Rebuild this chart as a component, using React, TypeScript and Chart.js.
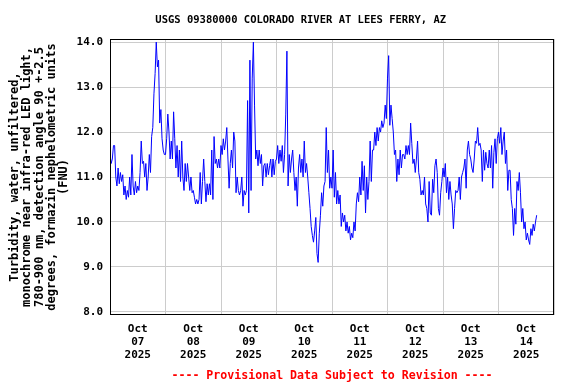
import React, { useEffect, useRef } from "react";
import { Chart, registerables } from "chart.js";

Chart.register(...registerables);

const TITLE = "USGS 09380000 COLORADO RIVER AT LEES FERRY, AZ";
const FOOTER = "---- Provisional Data Subject to Revision ----";
const Y_TITLE = [
  "Turbidity, water, unfiltered,",
  "monochrome near infra-red LED light,",
  "780-900 nm, detection angle 90 +-2.5",
  "degrees, formazin nephelometric units",
  "(FNU)",
];
const MONTH = "Oct";
const YEAR = "2025";
const DAYS = ["07", "08", "09", "10", "11", "12", "13", "14"];
const Y_TICKS = [8, 9, 10, 11, 12, 13, 14];
const STEP_HOURS = 0.5;

// half-hourly turbidity values (FNU), starting Oct 07 00:00
const oct07 = [11.5, 11.3, 11.4, 11.7, 11.7, 11.0, 10.8, 11.2, 10.85, 11.1, 10.9, 11.05, 10.6, 10.8, 10.5, 10.7, 10.55, 11.0, 10.6, 11.5, 10.8, 10.6, 10.9, 10.65, 10.8, 10.7, 11.1, 11.8, 11.3, 11.35, 11.0, 11.3, 10.7, 11.0, 11.5, 11.1, 11.9, 12.1, 12.85, 13.3, 14.0, 13.45, 13.6, 12.2, 12.5, 11.85, 11.6, 11.5];
const oct08 = [11.5, 11.85, 12.4, 12.0, 11.4, 11.8, 11.4, 12.45, 11.85, 11.2, 11.7, 11.0, 11.6, 10.9, 11.8, 11.0, 10.7, 11.3, 10.9, 11.3, 11.0, 10.7, 11.0, 10.65, 10.7, 10.55, 10.4, 10.5, 10.4, 10.5, 11.1, 10.4, 10.9, 11.4, 10.9, 10.45, 10.85, 10.6, 10.85, 10.6, 11.6, 10.5, 11.9, 11.3, 11.4, 11.2, 11.4, 11.2];
const oct09 = [11.7, 11.5, 11.85, 11.6, 11.8, 12.1, 11.4, 10.75, 11.3, 11.6, 11.2, 12.0, 11.8, 10.65, 11.0, 10.7, 10.6, 10.7, 11.0, 10.35, 10.7, 10.6, 10.7, 12.7, 10.2, 13.6, 10.7, 13.2, 14.0, 12.6, 11.4, 11.6, 11.25, 11.6, 11.3, 11.5, 10.8, 11.25, 11.3, 11.0, 11.3, 11.05, 11.25, 11.4, 11.0, 11.4, 11.05, 11.35];
const oct10 = [11.4, 11.7, 11.3, 11.6, 11.35, 11.7, 11.1, 11.5, 12.4, 13.8, 10.8, 11.5, 11.1, 11.4, 11.6, 11.1, 10.7, 11.0, 10.35, 11.2, 11.5, 11.1, 11.4, 11.0, 11.8, 11.1, 11.3, 11.0, 10.65, 10.3, 9.9, 9.7, 9.55, 9.8, 10.1, 9.3, 9.1, 9.75, 10.15, 10.65, 10.35, 10.8, 10.9, 12.1, 11.1, 11.6, 10.75, 11.0];
const oct11 = [10.75, 11.6, 10.55, 11.1, 10.4, 10.7, 10.4, 10.6, 9.9, 10.2, 10.0, 10.15, 9.8, 10.0, 9.75, 9.9, 9.6, 9.75, 9.65, 10.0, 9.8, 10.4, 10.65, 10.45, 11.0, 10.6, 11.35, 10.7, 11.25, 10.2, 11.0, 10.5, 10.9, 11.8, 10.9, 11.6, 11.6, 12.0, 11.7, 12.1, 11.8, 12.1, 12.0, 12.25, 12.1, 12.2, 12.6, 12.3];
const oct12 = [13.2, 13.7, 12.15, 12.6, 12.3, 12.0, 11.5, 11.6, 10.9, 11.4, 11.05, 11.6, 11.2, 11.5, 11.5, 11.4, 11.7, 11.5, 11.7, 11.5, 12.2, 11.75, 11.3, 11.4, 11.1, 11.4, 11.8, 11.1, 10.95, 10.6, 10.7, 10.6, 11.0, 10.4, 10.3, 10.0, 10.9, 10.2, 10.15, 10.95, 10.65, 11.25, 11.4, 11.1, 10.3, 10.15, 10.65, 10.9];
const oct13 = [11.2, 11.0, 11.3, 10.65, 11.0, 10.5, 10.9, 10.6, 10.4, 9.85, 10.3, 10.7, 10.65, 10.7, 11.0, 10.5, 11.0, 11.1, 11.2, 11.4, 10.75, 11.6, 11.8, 11.5, 11.4, 11.2, 11.1, 11.4, 11.8, 11.75, 12.1, 11.7, 11.75, 11.6, 10.9, 11.6, 11.15, 11.55, 11.3, 11.2, 11.6, 11.2, 11.7, 10.75, 11.55, 11.85, 11.3, 11.85];
const oct14 = [12.0, 11.75, 12.1, 11.5, 11.8, 12.0, 11.3, 11.6, 10.7, 11.15, 11.15, 10.5, 10.3, 9.7, 10.3, 9.95, 10.9, 10.7, 11.1, 10.65, 10.0, 10.3, 9.85, 10.0, 9.6, 9.75, 9.6, 9.5, 9.85, 9.7, 9.95, 9.8, 10.0, 10.15];

const SERIES = [...oct07, ...oct08, ...oct09, ...oct10, ...oct11, ...oct12, ...oct13, ...oct14];

const FONT = '"DejaVu Sans Mono", monospace';

const decor = {
  id: "decor",
  afterDraw(chart: any) {
    const { ctx, chartArea: a } = chart;
    ctx.save();
    ctx.strokeStyle = "#000";
    ctx.lineWidth = 1;
    ctx.strokeRect(a.left + 0.5, a.top + 0.5, a.right - a.left - 1, a.bottom - a.top - 1);
    ctx.textAlign = "center";
    ctx.textBaseline = "middle";
    ctx.fillStyle = "#000";
    ctx.font = `bold 10.5px ${FONT}`;
    ctx.fillText(TITLE, 300.7, 20.5);
    ctx.fillStyle = "#ff0000";
    ctx.font = `bold 11.6px ${FONT}`;
    ctx.fillText(FOOTER, (a.left + a.right) / 2, 375.5);
    ctx.fillStyle = "#000";
    ctx.font = `bold 12px ${FONT}`;
    ctx.translate(0, (a.top + a.bottom) / 2);
    ctx.rotate(-Math.PI / 2);
    Y_TITLE.forEach((t, i) => ctx.fillText(t, 0, 15 + i * 12.3));
    ctx.restore();
  },
};

export default function App() {
  const ref = useRef<HTMLCanvasElement>(null);
  useEffect(() => {
    if (!ref.current) return;
    const chart = new Chart(ref.current, {
      type: "line",
      data: {
        datasets: [
          {
            data: SERIES.map((v, i) => ({ x: i * STEP_HOURS, y: v })),
            borderColor: "#0000ff",
            borderWidth: 1,
            pointRadius: 0,
            tension: 0,
            fill: false,
          },
        ],
      },
      options: {
        responsive: false,
        animation: false,
        layout: { padding: { left: 0, top: 39, right: 22, bottom: 0 } },
        plugins: { legend: { display: false }, tooltip: { enabled: false }, title: { display: false } },
        scales: {
          x: {
            type: "linear",
            min: 0,
            max: DAYS.length * 24,
            afterBuildTicks: (s: any) => {
              const t = [];
              for (let v = 0; v <= DAYS.length * 24; v += 12) t.push({ value: v });
              s.ticks = t;
            },
            afterFit: (s: any) => {
              s.height = 69;
            },
            grid: {
              color: (c: any) => (c.tick && c.tick.value % 24 === 0 ? "#cccccc" : "rgba(0,0,0,0)"),
              drawTicks: false,
              lineWidth: 1,
            },
            border: { display: false },
            ticks: {
              autoSkip: false,
              maxRotation: 0,
              padding: 8,
              color: "#000",
              font: { family: FONT, size: 11, weight: "bold", lineHeight: 1.18 },
              callback: (v: any) => {
                const n = Number(v);
                if (n % 24 !== 12) return "";
                return [MONTH, DAYS[Math.floor(n / 24)], YEAR];
              },
            },
          },
          y: {
            min: 7.93,
            max: 14.07,
            afterBuildTicks: (s: any) => {
              s.ticks = Y_TICKS.map((v) => ({ value: v }));
            },
            afterFit: (s: any) => {
              s.width = 110;
            },
            grid: { color: "#cccccc", drawTicks: false, lineWidth: 1 },
            border: { display: false },
            ticks: {
              padding: 7,
              color: "#000",
              font: { family: FONT, size: 11, weight: "bold" },
              callback: (v: any) => Number(v).toFixed(1),
            },
          },
        },
      },
      plugins: [decor],
    });
    return () => chart.destroy();
  }, []);
  return (
    <div style={{ position: "absolute", left: 0, top: 0, width: 576, height: 384, background: "#fff" }}>
      <canvas ref={ref} width={576} height={384} />
    </div>
  );
}
